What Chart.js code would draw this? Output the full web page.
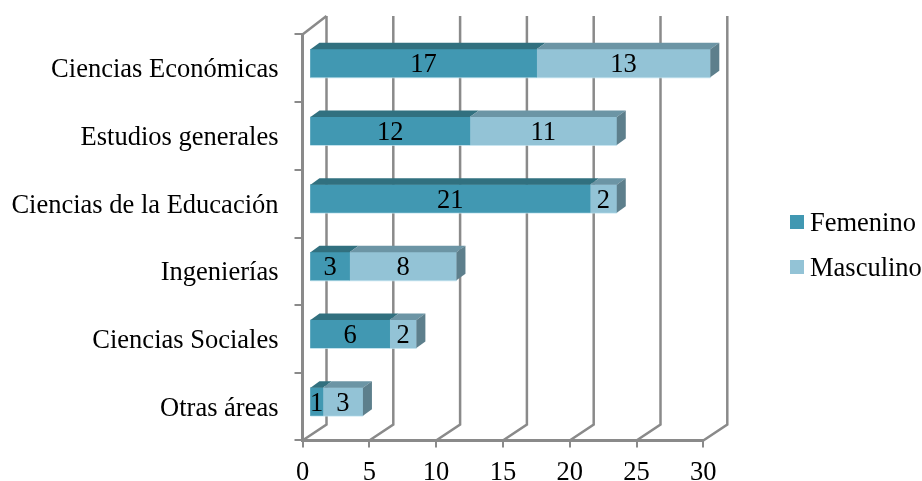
<!DOCTYPE html>
<html>
<head>
<meta charset="utf-8">
<style>
  html, body { margin: 0; padding: 0; background: #fff; }
  #wrap { width: 922px; height: 481px; }
</style>
<script src="https://cdn.jsdelivr.net/npm/chart.js@4"></script>
</head>
<body>
<div id="wrap"><canvas id="chart" width="922" height="481"></canvas></div>
<script>
/* === Data === */
const categories = ["Ciencias Económicas", "Estudios generales", "Ciencias de la Educación", "Ingenierías", "Ciencias Sociales", "Otras áreas"];
const femenino = [17, 12, 21, 3, 6, 1];
const masculino = [13, 11, 2, 8, 2, 3];
const seriesNames = ["Femenino", "Masculino"];

/* === Style === */
const FONT = { family: "'Liberation Serif', 'Times New Roman', serif", size: 26.5 };
const GREY = "#8a8a8a";
const FRONT = ["#4198b2", "#93c3d6"];
const EDGE = "rgba(190,225,238,0.7)";
const TOP = ["#31707f", "#6c95a5"];
const SIDE = ["#31707f", "#5d7f8c"];

/* 3D offsets: wall depth and where the bars sit inside it */
const WALL_DX = 24, WALL_DY = -16;
const BAR_DX = 7, BAR_DY = -5;
const FACE_DX = 9, FACE_DY = -6.5;

function poly(ctx, pts, fill) {
  ctx.beginPath();
  pts.forEach((p, i) => i ? ctx.lineTo(p[0], p[1]) : ctx.moveTo(p[0], p[1]));
  ctx.closePath();
  ctx.fillStyle = fill;
  ctx.fill();
}

/* === 3D walls, bar faces, value labels, legend === */
const fake3d = {
  id: "fake3d",
  beforeDatasetsDraw(chart) {
    const { ctx, chartArea: a, scales: { x } } = chart;
    ctx.save();
    ctx.strokeStyle = GREY;
    ctx.lineWidth = 2.5;
    x.ticks.forEach((t, i) => {
      const px = x.getPixelForTick(i);
      ctx.beginPath();
      ctx.moveTo(px, a.bottom);
      ctx.lineTo(px + WALL_DX, a.bottom + WALL_DY);
      ctx.lineTo(px + WALL_DX, a.top - 18.5);
      ctx.stroke();
    });
    ctx.beginPath();
    ctx.moveTo(a.left, a.top);
    ctx.lineTo(a.left + WALL_DX, a.top - 18.5);
    ctx.stroke();
    ctx.restore();
    // bars are drawn on the middle plane of the depth
    ctx.save();
    ctx.translate(BAR_DX, BAR_DY);
  },
  afterDatasetsDraw(chart) {
    const { ctx } = chart;
    const last = chart.data.datasets.length - 1;
    chart.data.datasets.forEach((ds, d) => {
      chart.getDatasetMeta(d).data.forEach((bar, i) => {
        const top = bar.y - bar.height / 2, bottom = bar.y + bar.height / 2;
        poly(ctx, [[bar.base, top], [bar.x, top], [bar.x + FACE_DX, top + FACE_DY], [bar.base + FACE_DX, top + FACE_DY]], TOP[d]);
        if (d === last) {
          poly(ctx, [[bar.x, top], [bar.x + FACE_DX, top + FACE_DY], [bar.x + FACE_DX, bottom + FACE_DY], [bar.x, bottom]], SIDE[d]);
        }
        ctx.strokeStyle = EDGE;
        ctx.lineWidth = 1;
        ctx.beginPath();
        ctx.moveTo(bar.base, bottom + 0.5);
        ctx.lineTo(bar.x, bottom + 0.5);
        ctx.stroke();
      });
    });
    ctx.font = `${FONT.size}px ${FONT.family}`;
    ctx.fillStyle = "#000";
    ctx.textAlign = "center";
    ctx.textBaseline = "middle";
    chart.data.datasets.forEach((ds, d) => {
      chart.getDatasetMeta(d).data.forEach((bar, i) => {
        ctx.fillText(ds.data[i], (bar.base + bar.x) / 2, bar.y + 2);
      });
    });
    ctx.restore();

    // legend
    ctx.save();
    ctx.font = `${FONT.size}px ${FONT.family}`;
    ctx.textBaseline = "middle";
    ctx.textAlign = "left";
    chart.data.datasets.forEach((ds, d) => {
      const y = 222 + d * 45;
      ctx.fillStyle = ds.backgroundColor;
      ctx.fillRect(790, y - 7, 14, 14);
      ctx.fillStyle = "#000";
      ctx.fillText(ds.label, 810, y + 2);
    });
    ctx.restore();
  }
};

/* === Chart === */
new Chart(document.getElementById("chart"), {
  type: "bar",
  data: {
    labels: categories,
    datasets: [
      { label: seriesNames[0], data: femenino, backgroundColor: FRONT[0], barThickness: 28, clip: false },
      { label: seriesNames[1], data: masculino, backgroundColor: FRONT[1], barThickness: 28, clip: false }
    ]
  },
  options: {
    indexAxis: "y",
    responsive: false,
    animation: false,
    layout: { padding: { top: 34.5, right: 218.7, bottom: 0, left: 0 } },
    plugins: { legend: { display: false }, tooltip: { enabled: false } },
    scales: {
      x: {
        stacked: true,
        min: 0,
        max: 30,
        afterFit(scale) { scale.height = 40.5; },
        ticks: { stepSize: 5, color: "#000", font: FONT, padding: 10, maxRotation: 0 },
        grid: { drawOnChartArea: false, drawTicks: true, tickLength: 7, color: GREY, lineWidth: 2 },
        border: { color: GREY, width: 3 }
      },
      y: {
        stacked: true,
        afterFit(scale) { scale.width = 302.5; },
        ticks: { color: "#000", font: FONT, padding: 16, autoSkip: false, labelOffset: 2 },
        grid: { drawOnChartArea: false, drawTicks: true, tickLength: 8, color: GREY, lineWidth: 2 },
        border: { color: GREY, width: 3 }
      }
    }
  },
  plugins: [fake3d]
});
</script>
</body>
</html>
